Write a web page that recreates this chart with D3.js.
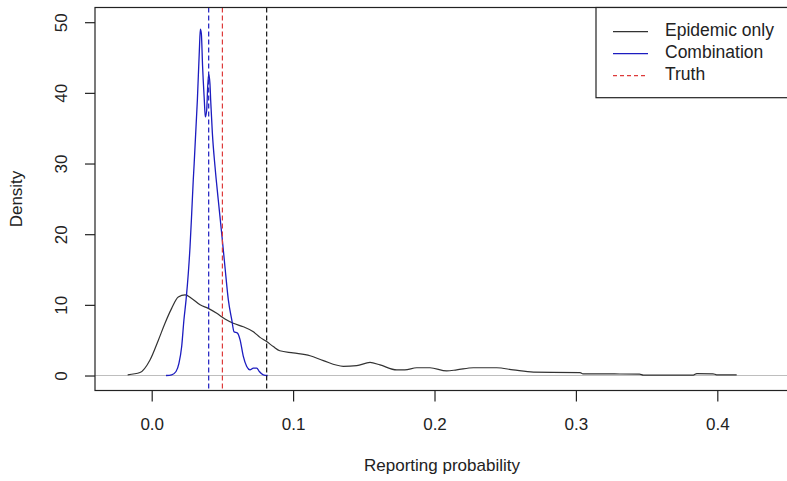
<!DOCTYPE html>
<html>
<head>
<meta charset="utf-8">
<script src="https://cdn.jsdelivr.net/npm/d3@7"></script>
<style>
body { margin: 0; background: #fff; }
text { font-family: "Liberation Sans", Arial, sans-serif; fill: #222; }
</style>
</head>
<body>
<div id="chart"></div>
<script>
// density estimates
var epidemicX = [-0.0170, -0.0083, -0.0012, 0.0047, 0.0094, 0.0141, 0.0188, 0.0236, 0.0283, 0.0342, 0.0400, 0.0460, 0.0518, 0.0577, 0.0648, 0.0719, 0.0766, 0.0813, 0.0860, 0.0906, 0.1000, 0.1120, 0.1214, 0.1355, 0.1450, 0.1544, 0.1615, 0.1733, 0.1790, 0.1874, 0.1968, 0.2086, 0.2157, 0.2275, 0.2440, 0.2557, 0.2700, 0.3030, 0.3050, 0.3450, 0.3477, 0.3830, 0.3855, 0.3970, 0.3995, 0.4137]
var epidemicY = [0.1, 0.42, 2.2, 5.0, 7.4, 9.5, 11.1, 11.4, 10.9, 10.0, 9.5, 8.8, 8.0, 7.4, 6.9, 6.2, 5.4, 4.8, 4.1, 3.5, 3.2, 2.8, 2.1, 1.3, 1.4, 1.85, 1.5, 0.8, 0.8, 1.1, 1.1, 0.66, 0.8, 1.1, 1.1, 0.8, 0.48, 0.42, 0.24, 0.2, 0.06, 0.06, 0.28, 0.24, 0.1, 0.1]

var comboX = [0.0101, 0.0141, 0.0172, 0.0193, 0.0212, 0.0228, 0.0243, 0.0259, 0.0271, 0.0283, 0.0294, 0.0299, 0.0323, 0.0337, 0.0344, 0.0351, 0.0360, 0.0372, 0.0379, 0.0389, 0.0396, 0.0403, 0.0412, 0.0417, 0.0429, 0.0448, 0.0471, 0.0495, 0.0518, 0.0542, 0.0566, 0.0582, 0.0606, 0.0625, 0.0648, 0.0672, 0.0695, 0.0719, 0.0743, 0.0761, 0.0789, 0.0820]
var comboY = [0.0, 0.1, 0.57, 1.75, 4.1, 7.9, 10.7, 14.5, 18.2, 23.0, 27.7, 29.5, 39.0, 46.0, 49.0, 48.4, 43.7, 39.0, 36.6, 37.6, 40.9, 42.6, 41.3, 39.0, 34.3, 29.5, 24.8, 20.1, 15.4, 10.7, 7.9, 6.2, 6.0, 5.05, 2.7, 1.27, 0.8, 1.05, 1.05, 0.57, 0.1, 0.0]

// vertical reference lines
var vlineValues = [0.0403, 0.05, 0.0813]
var vlineColors = ["#1c1cc0", "#dd3a3a", "#111"]

var xTicks = [0.0, 0.1, 0.2, 0.3, 0.4]
var yTicks = [0, 10, 20, 30, 40, 50]

var legendLabels = ["Epidemic only", "Combination", "Truth"]
var legendColors = ["#333", "#1c1cc0", "#dd3a3a"]
var legendDash = [null, null, "4,3"]

var w = 787, h = 481
var plotL = 95, plotR = 789, plotT = 7.5, plotB = 390.5

var svg = d3.select("#chart")
	.append("svg")
	.attr("width", w)
	.attr("height", h)

var x = d3.scaleLinear().domain([-0.0401, 0.4507]).range([plotL, plotR])
var y = d3.scaleLinear().domain([-2.12, 52.08]).range([plotB, plotT])

// zero line
svg.append("line")
	.attr("x1", plotL).attr("x2", plotR)
	.attr("y1", y(0)).attr("y2", y(0))
	.attr("stroke", "#bebebe").attr("stroke-width", 1.2)

var line = d3.line()
	.x(function(d) { return x(d[0]) })
	.y(function(d) { return y(d[1]) })
	.curve(d3.curveMonotoneX)

svg.append("path")
	.attr("d", line(d3.zip(epidemicX, epidemicY)))
	.attr("fill", "none")
	.attr("stroke", "#333")
	.attr("stroke-width", 1.2)

svg.append("path")
	.attr("d", line(d3.zip(comboX, comboY)))
	.attr("fill", "none")
	.attr("stroke", "#1c1cc0")
	.attr("stroke-width", 1.3)

svg.selectAll(".vline")
	.data(vlineValues)
	.enter().append("line")
	.attr("class", "vline")
	.attr("x1", function(d) { return x(d) })
	.attr("x2", function(d) { return x(d) })
	.attr("y1", plotT).attr("y2", plotB)
	.attr("stroke", function(d, i) { return vlineColors[i] })
	.attr("stroke-width", 1.2)
	.attr("stroke-dasharray", "5,3")

// box
svg.append("rect")
	.attr("x", plotL).attr("y", plotT)
	.attr("width", plotR - plotL).attr("height", plotB - plotT)
	.attr("fill", "none").attr("stroke", "#222").attr("stroke-width", 1.2)

// x axis
var xAxis = d3.axisBottom(x).tickValues(xTicks).tickSize(11).tickFormat(d3.format(".1f"))
var gx = svg.append("g").attr("transform", "translate(0," + plotB + ")").call(xAxis)
gx.select(".domain").remove()
gx.selectAll("line").attr("stroke", "#222").attr("stroke-width", 1.2)
gx.selectAll("text")
	.attr("y", 0).attr("dy", null)
	.attr("transform", "translate(0,35)")
	.attr("dominant-baseline", "middle")
	.style("font-size", "17px")

// y axis
var yAxis = d3.axisLeft(y).tickValues(yTicks).tickSize(10)
var gy = svg.append("g").attr("transform", "translate(" + plotL + ",0)").call(yAxis)
gy.select(".domain").remove()
gy.selectAll("line").attr("stroke", "#222").attr("stroke-width", 1.2)
gy.selectAll("text")
	.attr("x", 0).attr("dy", null)
	.attr("transform", "translate(-32,0) rotate(-90)")
	.attr("text-anchor", "middle")
	.attr("dominant-baseline", "middle")
	.style("font-size", "17px")

svg.selectAll(".tick text").style("fill", "#222")

// axis titles
svg.append("text")
	.attr("x", (plotL + plotR) / 2).attr("y", 467)
	.attr("text-anchor", "middle").attr("dominant-baseline", "middle")
	.style("font-size", "17px")
	.text("Reporting probability")

svg.append("text")
	.attr("transform", "translate(18," + ((plotT + plotB) / 2) + ") rotate(-90)")
	.attr("text-anchor", "middle").attr("dominant-baseline", "middle")
	.style("font-size", "17px")
	.text("Density")

// legend
var legend = svg.append("g")
legend.append("rect")
	.attr("x", 596).attr("y", plotT)
	.attr("width", plotR - 596).attr("height", 97.7 - plotT)
	.attr("fill", "#fff").attr("stroke", "#222").attr("stroke-width", 1.2)

var rows = legend.selectAll(".row")
	.data(legendLabels)
	.enter().append("g")
	.attr("transform", function(d, i) { return "translate(0," + (31.7 + i * 22) + ")" })

rows.append("line")
	.attr("x1", 613).attr("x2", 648)
	.attr("stroke", function(d, i) { return legendColors[i] })
	.attr("stroke-width", 1.2)
	.attr("stroke-dasharray", function(d, i) { return legendDash[i] })

rows.append("text")
	.attr("x", 665)
	.attr("dominant-baseline", "middle")
	.style("font-size", "17.5px")
	.text(function(d) { return d })
</script>
</body>
</html>
